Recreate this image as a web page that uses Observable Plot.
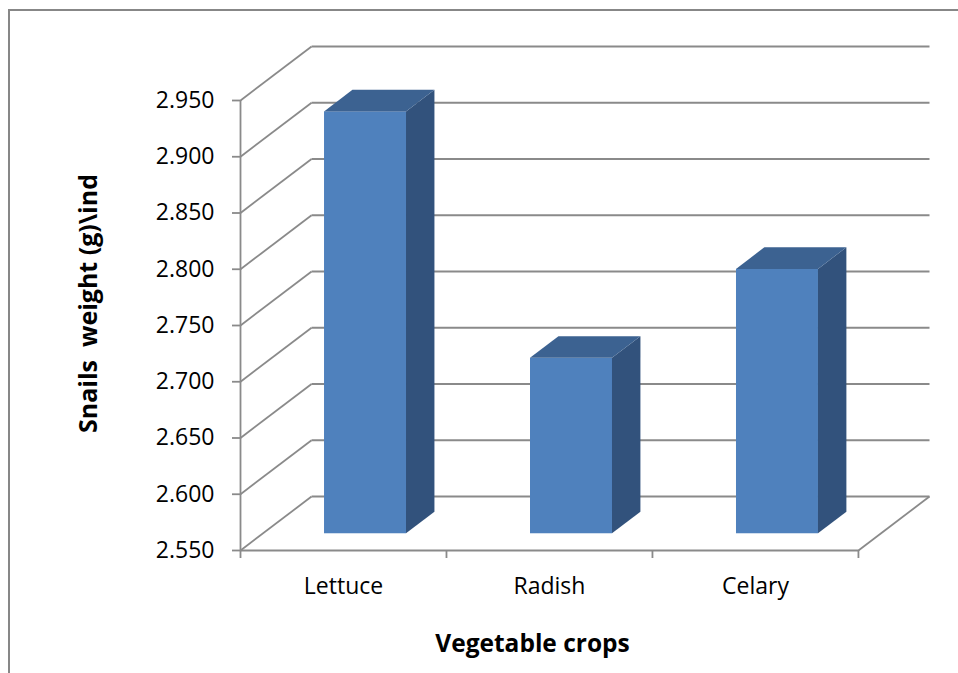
<!DOCTYPE html>
<html>
<head>
<meta charset="utf-8">
<script src="https://cdn.jsdelivr.net/npm/d3@7"></script>
<script src="https://cdn.jsdelivr.net/npm/@observablehq/plot@0.6"></script>
<style>
  html, body { margin: 0; padding: 0; background: #fff; }
  #chart { position: relative; width: 958px; height: 673px; overflow: hidden; }
  #chart .frame {
    position: absolute; left: 8px; top: 9px; right: -4px; bottom: -4px;
    border-left: 2px solid #878787; border-top: 2px solid #878787;
    pointer-events: none;
  }
  #chart svg { position: absolute; left: 0; top: 0; }
</style>
</head>
<body>
<div id="chart"><div class="frame"></div></div>
<script>
// Mean snail weight per individual on each vegetable crop
const crops = ["Lettuce", "Radish", "Celary"];
const weights = [2.925, 2.706, 2.785];
const yTicks = [2.55, 2.60, 2.65, 2.70, 2.75, 2.80, 2.85, 2.90, 2.95];
const yTitle = "Snails  weight (g)\\ind";
const xTitle = "Vegetable crops";

// 3D box geometry: full depth of the box expressed in x / y data units
const kx = 0.345;   // horizontal shift of the back wall (in category units)
const ky = 0.048;   // vertical shift of the back wall (in weight units)
const yBase = yTicks[0];
const yTop = yTicks[yTicks.length - 1];
const nCat = crops.length;
const t0 = 0.31, t1 = 0.71;   // front and back planes of the bars
const hw = 0.199;            // half bar width (category units)

const P = (x, y, t) => ({x: x + t * kx, y: y + t * ky});

const bars = crops.map((crop, i) => ({crop, value: weights[i], i}));

const fronts = bars.map(b => ({
  crop: b.crop,
  x1: P(b.i + 0.5 - hw, yBase, t0).x,
  x2: P(b.i + 0.5 + hw, yBase, t0).x,
  y1: P(0, yBase, t0).y,
  y2: P(0, b.value, t0).y
}));

const sides = bars.flatMap(b => [t0, t1].map(t => ({
  crop: b.crop,
  x: P(b.i + 0.5 + hw, 0, t).x,
  y1: P(0, yBase, t).y,
  y2: P(0, b.value, t).y
})));

const tops = bars.flatMap(b => [t0, t1].map(t => ({
  crop: b.crop,
  y: P(0, b.value, t).y,
  x1: P(b.i + 0.5 - hw, 0, t).x,
  x2: P(b.i + 0.5 + hw, 0, t).x
})));

const gridColor = "#8a8a8a";
const gridWidth = 1.8;

const chart = Plot.plot({
  width: 958,
  height: 673,
  marginLeft: 240,
  marginRight: 29,
  marginTop: 46,
  marginBottom: 123,
  style: {fontFamily: "'Open Sans', sans-serif", fontSize: "23px", color: "#000", background: "transparent"},
  x: {type: "linear", domain: [0, nCat + kx]},
  y: {type: "linear", domain: [yBase, yTop + ky]},
  marks: [
    // back wall gridlines
    Plot.link(yTicks, {x1: kx, x2: nCat + kx, y1: d => d + ky, y2: d => d + ky, stroke: gridColor, strokeWidth: gridWidth}),
    // side wall gridlines (the lowest one is the floor's left edge)
    Plot.link(yTicks, {x1: 0, x2: kx, y1: d => d, y2: d => d + ky, stroke: gridColor, strokeWidth: gridWidth}),
    // floor: front and right edges
    Plot.link([yBase], {x1: 0, x2: nCat, y1: d => d, y2: d => d, stroke: gridColor, strokeWidth: gridWidth}),
    Plot.link([yBase], {x1: nCat, x2: nCat + kx, y1: d => d, y2: d => d + ky, stroke: gridColor, strokeWidth: gridWidth}),
    // vertical value axis line
    Plot.ruleX([0], {y1: yBase, y2: yTop, stroke: gridColor, strokeWidth: gridWidth}),
    // value axis ticks and labels
    Plot.axisY(yTicks, {tickSize: 8, tickFormat: () => "", stroke: gridColor, strokeWidth: gridWidth}),
    Plot.axisY(yTicks, {tickSize: 0, tickPadding: 26, tickFormat: d3.format(".3f"), fontSize: 23, fill: "#000"}),
    // category axis ticks and labels
    Plot.axisX(d3.range(nCat + 1), {tickSize: 8, tickFormat: () => "", stroke: gridColor, strokeWidth: gridWidth}),
    Plot.axisX(d3.range(nCat).map(i => i + 0.5), {tickSize: 0, tickPadding: 27, tickFormat: d => crops[Math.floor(d)], fontSize: 23, fill: "#000"}),
    // bars: front face, side face, top face
    Plot.rect(fronts, {x1: "x1", x2: "x2", y1: "y1", y2: "y2", fill: "#4f81bd"}),
    Plot.areaY(sides, {x: "x", y1: "y1", y2: "y2", z: "crop", fill: "#32527c"}),
    Plot.areaX(tops, {y: "y", x1: "x1", x2: "x2", z: "crop", fill: "#3c6291"}),
    // axis titles
    Plot.text([xTitle], {frameAnchor: "bottom-left", dx: 292, dy: 101, text: d => d, fontSize: 24.5, fontWeight: "bold", textAnchor: "middle", fill: "#000"}),
    Plot.text([yTitle], {frameAnchor: "left", dx: -152, dy: 5, text: d => d, rotate: -90, fontSize: 25, fontWeight: "bold", textAnchor: "middle", fill: "#000"})
  ]
});

document.getElementById("chart").prepend(chart);
</script>
</body>
</html>
